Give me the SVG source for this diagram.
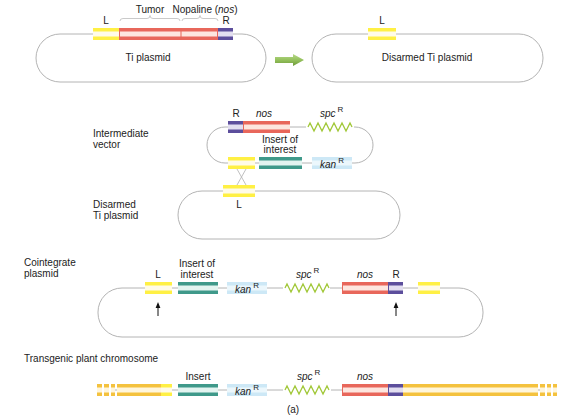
<svg xmlns="http://www.w3.org/2000/svg" width="580" height="420" viewBox="0 0 580 420">
<defs>
<style>
.bb{fill:none;stroke:#b4b4b4;stroke-width:1}
.t{font-family:"Liberation Sans",Arial,sans-serif;font-size:10px;fill:#222}
.m{text-anchor:middle}
.i{font-style:italic}
.sup{font-size:8px;font-style:normal}
.yS{fill:#fff044}.yI{fill:#fffbe8}
.gS{fill:#f4c23e}.gI{fill:#fff6dc}
.rS{fill:#e8675b}.rI{fill:#fde6df}
.pS{fill:#5c4e9c}.pI{fill:#e2def0}
.tS{fill:#3f998a}.tI{fill:#e3f4f0}
.kS{fill:#cde8f6}.kI{fill:#ecf7fc}
.zz{fill:none;stroke:#a2c83a;stroke-width:1.3;stroke-linejoin:miter}
.br{fill:none;stroke:#bdbdbd;stroke-width:0.8}
.cx{stroke:#b0b0b0;stroke-width:0.8}
.ar{stroke:#111;stroke-width:1}
.ah{fill:#111}
</style>
<linearGradient id="ga" x1="0" y1="0" x2="0" y2="1">
<stop offset="0" stop-color="#b9d98c"/>
<stop offset="0.5" stop-color="#94c15c"/>
<stop offset="1" stop-color="#6e9a3a"/>
</linearGradient>
</defs>
<rect width="580" height="420" fill="#fff"/>

<!-- Ti plasmid -->
<g id="ti-plasmid">
<rect class="bb" x="36" y="34" width="230" height="48" rx="24"/>
<rect class="yS" x="93" y="28" width="26" height="12"/><rect class="yI" x="93" y="31.5" width="26" height="5"/>
<rect class="rS" x="119" y="28" width="99" height="12"/><rect class="rI" x="120" y="31.5" width="97" height="5"/>
<rect class="rS" x="180.5" y="28" width="1" height="12"/>
<rect class="pS" x="218" y="28" width="15" height="12"/><rect class="pI" x="218" y="31.5" width="15" height="5"/>
<path class="br" d="M120,21 q0,-2.5 3,-2.5 H147 q3,0 3,-3 q0,3 3,3 H177 q3,0 3,2.5"/>
<path class="br" d="M182,21 q0,-2.5 3,-2.5 H197 q3,0 3,-3 q0,3 3,3 H215 q3,0 3,2.5"/>
<text class="t m" x="106" y="24">L</text>
<text class="t m" x="150" y="13">Tumor</text>
<text class="t m" x="205" y="13">Nopaline (<tspan class="i">nos</tspan>)</text>
<text class="t m" x="226" y="24">R</text>
<text class="t m" x="148" y="61">Ti plasmid</text>
</g>

<!-- Disarmed Ti plasmid (top) -->
<g id="disarmed-ti-1">
<rect class="bb" x="312" y="34" width="231" height="48" rx="24"/>
<rect class="yS" x="368" y="28" width="28" height="12"/><rect class="yI" x="368" y="31.5" width="28" height="5"/>
<text class="t m" x="382" y="24">L</text>
<text class="t m" x="427" y="61">Disarmed Ti plasmid</text>
</g>

<!-- Intermediate vector -->
<g id="intermediate-vector">
<rect class="bb" x="207" y="127" width="166" height="36" rx="18"/>
<rect x="306" y="121" width="48" height="12" fill="#fff"/>
<rect class="pS" x="228" y="121" width="15" height="12"/><rect class="pI" x="228" y="124.5" width="15" height="5"/>
<rect class="rS" x="243" y="121" width="47" height="12"/><rect class="rI" x="244" y="124.5" width="46" height="5"/>
<polyline class="zz" points="308,127 310,123 314,131 318,123 322,131 326,123 330,131 334,123 338,131 342,123 346,131 350,123 352,127"/>
<rect class="yS" x="228" y="157" width="27" height="12"/><rect class="yI" x="228" y="160.5" width="27" height="5"/>
<rect class="tS" x="259" y="157" width="43" height="12"/><rect class="tI" x="259" y="160.5" width="43" height="5"/>
<rect class="kS" x="312" y="157" width="40" height="12"/><rect class="kI" x="312" y="160.5" width="40" height="5"/>
<text class="t m" x="236" y="117">R</text>
<text class="t m i" x="264" y="117">nos</text>
<text class="t" x="320" y="117"><tspan class="i">spc</tspan><tspan class="sup" dx="2" dy="-5">R</tspan></text>
<text class="t m" x="280" y="143">Insert of</text>
<text class="t m" x="280" y="153">interest</text>
<text class="t" x="320" y="168"><tspan class="i">kan</tspan><tspan class="sup" dx="2" dy="-5">R</tspan></text>
<text class="t" x="93" y="137">Intermediate</text>
<text class="t" x="93" y="148">vector</text>
</g>

<!-- Disarmed Ti plasmid (middle) -->
<g id="disarmed-ti-2">
<rect class="bb" x="178" y="191" width="222" height="48" rx="24"/>
<rect class="yS" x="223" y="185" width="32" height="12"/><rect class="yI" x="223" y="188.5" width="32" height="5"/>
<text class="t m" x="239" y="208">L</text>
<text class="t" x="93" y="208">Disarmed</text>
<text class="t" x="93" y="219">Ti plasmid</text>
</g>

<!-- Cointegrate plasmid -->
<g id="cointegrate-plasmid">
<rect class="bb" x="98" y="288" width="385" height="49" rx="24"/>
<rect x="283" y="282" width="47" height="12" fill="#fff"/>
<rect class="yS" x="145" y="282" width="27" height="12"/><rect class="yI" x="145" y="285.5" width="27" height="5"/>
<rect class="tS" x="178" y="282" width="40" height="12"/><rect class="tI" x="178" y="285.5" width="40" height="5"/>
<rect class="kS" x="227" y="282" width="40" height="12"/><rect class="kI" x="227" y="285.5" width="40" height="5"/>
<polyline class="zz" points="285,288 287,284 291,292 295,284 299,292 303,284 307,292 311,284 315,292 319,284 323,292 327,284 329,288"/>
<rect class="rS" x="342" y="282" width="46" height="12"/><rect class="rI" x="343" y="285.5" width="45" height="5"/>
<rect class="pS" x="388" y="282" width="15" height="12"/><rect class="pI" x="389" y="285.5" width="14" height="5"/>
<rect class="yS" x="418" y="282" width="22" height="12"/><rect class="yI" x="418" y="285.5" width="22" height="5"/>
<text class="t m" x="158" y="278">L</text>
<text class="t m" x="197" y="267">Insert of</text>
<text class="t m" x="197" y="278">interest</text>
<text class="t" x="235" y="293"><tspan class="i">kan</tspan><tspan class="sup" dx="2" dy="-5">R</tspan></text>
<text class="t" x="296" y="278"><tspan class="i">spc</tspan><tspan class="sup" dx="2" dy="-5">R</tspan></text>
<text class="t m i" x="365" y="278">nos</text>
<text class="t m" x="396" y="278">R</text>
<text class="t" x="24" y="266">Cointegrate</text>
<text class="t" x="24" y="277">plasmid</text>
</g>

<!-- Transgenic plant chromosome -->
<g id="transgenic-chromosome">
<line class="bb" x1="114" y1="390" x2="540" y2="390"/>
<rect x="283" y="384" width="48" height="12" fill="#fff"/>
<rect class="gS" x="97" y="384" width="5" height="12"/><rect class="gI" x="97" y="387.5" width="5" height="5"/>
<rect class="gS" x="104" y="384" width="5" height="12"/><rect class="gI" x="104" y="387.5" width="5" height="5"/>
<rect class="gS" x="111" y="384" width="4" height="12"/><rect class="gI" x="111" y="387.5" width="4" height="5"/>
<rect class="gS" x="117" y="384" width="44" height="12"/><rect class="gI" x="117" y="387.5" width="44" height="5"/>
<rect class="yS" x="161" y="384" width="11" height="12"/><rect class="yI" x="161" y="387.5" width="11" height="5"/>
<rect class="tS" x="178" y="384" width="40" height="12"/><rect class="tI" x="178" y="387.5" width="40" height="5"/>
<rect class="kS" x="227" y="384" width="40" height="12"/><rect class="kI" x="227" y="387.5" width="40" height="5"/>
<polyline class="zz" points="285,390 287,386 291,394 295,386 299,394 303,386 307,394 311,386 315,394 319,386 323,394 327,386 329,390"/>
<rect class="rS" x="342" y="384" width="46" height="12"/><rect class="rI" x="343" y="387.5" width="45" height="5"/>
<rect class="pS" x="388" y="384" width="15" height="12"/><rect class="pI" x="389" y="387.5" width="14" height="5"/>
<rect class="gS" x="403" y="384" width="135" height="12"/><rect class="gI" x="403" y="387.5" width="135" height="5"/>
<rect class="gS" x="540" y="384" width="5" height="12"/><rect class="gI" x="540" y="387.5" width="5" height="5"/>
<rect class="gS" x="547" y="384" width="4" height="12"/><rect class="gI" x="547" y="387.5" width="4" height="5"/>
<rect class="gS" x="553" y="384" width="4" height="12"/><rect class="gI" x="553" y="387.5" width="4" height="5"/>
<text class="t m" x="198" y="380">Insert</text>
<text class="t" x="235" y="395"><tspan class="i">kan</tspan><tspan class="sup" dx="2" dy="-5">R</tspan></text>
<text class="t" x="297" y="380"><tspan class="i">spc</tspan><tspan class="sup" dx="2" dy="-5">R</tspan></text>
<text class="t m i" x="365" y="380">nos</text>
<text class="t" x="24" y="362">Transgenic plant chromosome</text>
<text class="t m" x="293" y="413">(a)</text>
</g>

<!-- Connectors -->
<g id="connectors">
<path d="M275,57 H293 V54 L304,60 L293,66 V63 H275 Z" fill="url(#ga)"/>
<line class="cx" x1="237" y1="169" x2="246" y2="185"/>
<line class="cx" x1="246" y1="169" x2="237" y2="185"/>
<line class="ar" x1="158" y1="316" x2="158" y2="307"/>
<polygon class="ah" points="158,302 155.6,308 160.4,308"/>
<line class="ar" x1="396" y1="316" x2="396" y2="307"/>
<polygon class="ah" points="396,302 393.6,308 398.4,308"/>
</g>
</svg>
